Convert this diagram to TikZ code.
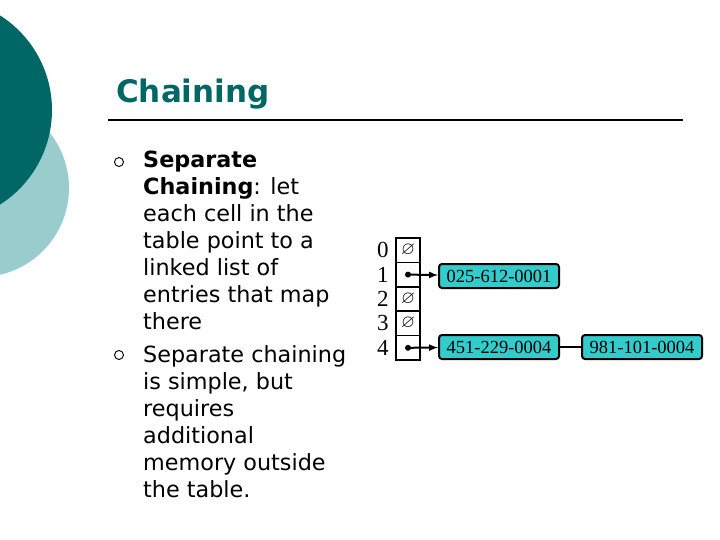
\documentclass[tikz,border=0pt]{standalone}
\usepackage{amssymb}
\usepackage{fontspec}
\setmainfont{Liberation Serif}
\newfontfamily\slidefont{DejaVu Sans}
\usetikzlibrary{positioning}
\definecolor{teal1}{HTML}{006666}
\definecolor{teal2}{HTML}{99CCCC}
\definecolor{listfill}{HTML}{33CCCC}
\tikzset{
    slot/.style={draw,line width=1.5pt,minimum width=24pt,minimum height=24.4pt,inner sep=0pt,
        font=\fontsize{18}{18}\selectfont},
    entry/.style={draw,line width=2pt,rounded corners=3pt,fill=listfill,minimum width=120pt,
        minimum height=24pt,inner sep=1pt,font=\fontsize{18.5}{18}\selectfont},
    idx/.style={font=\fontsize{23}{23}\selectfont},
    bullet/.style={draw,circle,line width=0.9pt,minimum size=9pt,inner sep=0pt},
    body/.style={anchor=north west,align=left,inner sep=0pt,
        font=\slidefont\fontsize{22.3}{27}\selectfont},
}
\begin{document}
\begin{tikzpicture}[x=1pt,y=-1pt]
        \useasboundingbox (0,0) rectangle (720,540);
        % background circles
        \fill[teal2] (-20,188) circle (89);
        \fill[teal1] (-60,110) circle (112);
        % title
        \node[anchor=base west,inner sep=0pt,text=teal1,font=\slidefont\bfseries\fontsize{31}{31}\selectfont] (title) at (116,103) {Chaining};
        \draw[line width=1.5pt] (108,120) -- (683,120);
        % bullets
        \node[bullet] (b1) at (119,162) {};
        \node[bullet] (b2) at (119,355) {};
        \node[body] (t1) at (143,151) {\textbf{Separate}\\\textbf{Chaining}: let\\each cell in the\\table point to a\\linked list of\\entries that map\\there};
        \node[body] (t2) at (143,345) {Separate chaining\\is simple, but\\requires\\additional\\memory outside\\the table.};
        % table
        \foreach \i/\c in {0/{$\varnothing$},1/{},2/{$\varnothing$},3/{$\varnothing$},4/{}} {
            \node[slot] (s\i) at (408,250.2+24.4*\i) {\c};
            \node[idx,left=3pt of s\i] (n\i) {\i};
        }
        \fill (s1.center) circle (3pt);
        \fill (s4.center) circle (3pt);
        % lists
        \node[entry] (e1) at (499,276) {025-612-0001};
        \node[entry] (e4) at (499,347) {451-229-0004};
        \node[entry] (e5) at (642,347) {981-101-0004};
        \draw[-latex,line width=2pt] (s1.center) -- (e1);
        \draw[-latex,line width=2pt] (s4.center) -- (e4);
        \draw[line width=2.5pt] (e4) -- (e5);
\end{tikzpicture}
\end{document}
